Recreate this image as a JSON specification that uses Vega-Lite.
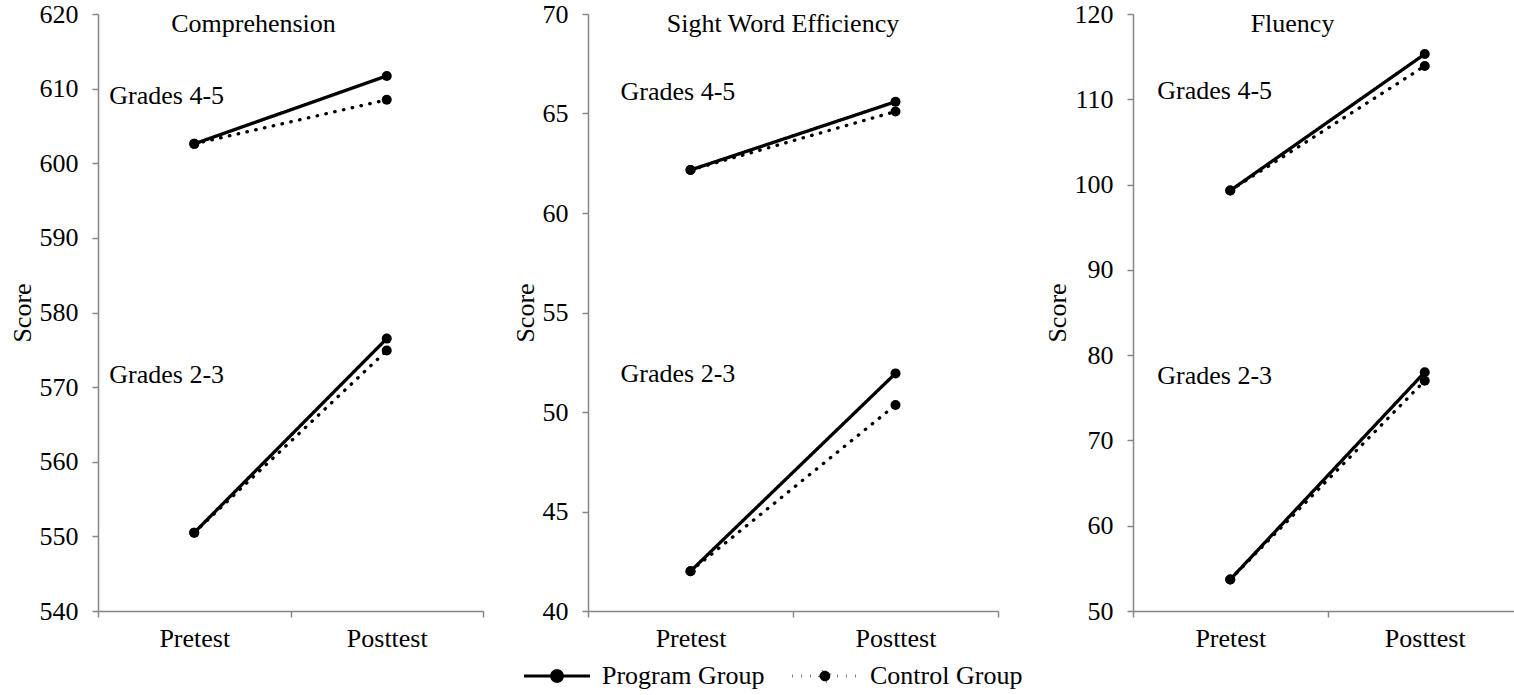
{
  "$schema": "https://vega.github.io/schema/vega-lite/v6.json",
  "padding": {"left": 9, "top": 1, "right": 0, "bottom": 0},
  "background": "white",
  "datasets": {
    "scores": [
      {"measure": "Comprehension", "grade": "Grades 4-5", "group": "Control Group", "test": "Pretest", "score": 602.6},
      {"measure": "Comprehension", "grade": "Grades 4-5", "group": "Control Group", "test": "Posttest", "score": 608.5},
      {"measure": "Comprehension", "grade": "Grades 2-3", "group": "Control Group", "test": "Pretest", "score": 550.5},
      {"measure": "Comprehension", "grade": "Grades 2-3", "group": "Control Group", "test": "Posttest", "score": 574.9},
      {"measure": "Comprehension", "grade": "Grades 4-5", "group": "Program Group", "test": "Pretest", "score": 602.6},
      {"measure": "Comprehension", "grade": "Grades 4-5", "group": "Program Group", "test": "Posttest", "score": 611.7},
      {"measure": "Comprehension", "grade": "Grades 2-3", "group": "Program Group", "test": "Pretest", "score": 550.5},
      {"measure": "Comprehension", "grade": "Grades 2-3", "group": "Program Group", "test": "Posttest", "score": 576.5},
      {"measure": "Sight Word Efficiency", "grade": "Grades 4-5", "group": "Control Group", "test": "Pretest", "score": 62.16},
      {"measure": "Sight Word Efficiency", "grade": "Grades 4-5", "group": "Control Group", "test": "Posttest", "score": 65.1},
      {"measure": "Sight Word Efficiency", "grade": "Grades 2-3", "group": "Control Group", "test": "Pretest", "score": 42.0},
      {"measure": "Sight Word Efficiency", "grade": "Grades 2-3", "group": "Control Group", "test": "Posttest", "score": 50.35},
      {"measure": "Sight Word Efficiency", "grade": "Grades 4-5", "group": "Program Group", "test": "Pretest", "score": 62.16},
      {"measure": "Sight Word Efficiency", "grade": "Grades 4-5", "group": "Program Group", "test": "Posttest", "score": 65.59},
      {"measure": "Sight Word Efficiency", "grade": "Grades 2-3", "group": "Program Group", "test": "Pretest", "score": 42.0},
      {"measure": "Sight Word Efficiency", "grade": "Grades 2-3", "group": "Program Group", "test": "Posttest", "score": 51.94},
      {"measure": "Fluency", "grade": "Grades 4-5", "group": "Control Group", "test": "Pretest", "score": 99.3},
      {"measure": "Fluency", "grade": "Grades 4-5", "group": "Control Group", "test": "Posttest", "score": 113.9},
      {"measure": "Fluency", "grade": "Grades 2-3", "group": "Control Group", "test": "Pretest", "score": 53.7},
      {"measure": "Fluency", "grade": "Grades 2-3", "group": "Control Group", "test": "Posttest", "score": 77.0},
      {"measure": "Fluency", "grade": "Grades 4-5", "group": "Program Group", "test": "Pretest", "score": 99.3},
      {"measure": "Fluency", "grade": "Grades 4-5", "group": "Program Group", "test": "Posttest", "score": 115.3},
      {"measure": "Fluency", "grade": "Grades 2-3", "group": "Program Group", "test": "Pretest", "score": 53.7},
      {"measure": "Fluency", "grade": "Grades 2-3", "group": "Program Group", "test": "Posttest", "score": 78.0}
    ],
    "labels": [
      {"measure": "Comprehension", "label": "Grades 4-5", "score": 609.0},
      {"measure": "Comprehension", "label": "Grades 2-3", "score": 571.6},
      {"measure": "Sight Word Efficiency", "label": "Grades 4-5", "score": 66.1},
      {"measure": "Sight Word Efficiency", "label": "Grades 2-3", "score": 51.9},
      {"measure": "Fluency", "label": "Grades 4-5", "score": 111.0},
      {"measure": "Fluency", "label": "Grades 2-3", "score": 77.6}
    ]
  },
  "hconcat": [
    {
      "spacing": 28,
      "hconcat": [
        {
          "width": 385,
          "height": 597,
          "title": {"text": "Comprehension", "dx": -37, "offset": -36},
          "layer": [
            {
              "data": {"name": "scores"},
              "transform": [{"filter": "datum.measure === 'Comprehension'"}],
              "mark": {"type": "line", "strokeWidth": 3.3, "strokeCap": "round", "color": "black"},
              "encoding": {
                "x": {"field": "test", "type": "nominal", "scale": {"domain": ["Pretest", "Posttest"], "paddingInner": 0, "paddingOuter": 0}, "axis": {"tickBand": "extent", "title": null, "labelAngle": 0}},
                "y": {"field": "score", "type": "quantitative", "scale": {"domain": [540, 620], "zero": false, "nice": false}, "axis": {"values": [540, 550, 560, 570, 580, 590, 600, 610, 620], "title": "Score"}},
                "strokeDash": {"field": "group", "type": "nominal", "scale": {"domain": ["Program Group", "Control Group"], "range": [[1, 0], [0.5, 8.5]]}, "title": null},
                "detail": {"field": "grade"}
              }
            },
            {
              "data": {"name": "scores"},
              "transform": [{"filter": "datum.measure === 'Comprehension'"}],
              "mark": {"type": "point", "filled": true, "size": 100, "color": "black", "opacity": 1},
              "encoding": {
                "x": {"field": "test", "type": "nominal"},
                "y": {"field": "score", "type": "quantitative"}
              }
            },
            {
              "data": {"name": "labels"},
              "transform": [{"filter": "datum.measure === 'Comprehension'"}],
              "mark": {"type": "text", "align": "left", "baseline": "middle", "dx": -85, "color": "black"},
              "encoding": {
                "x": {"datum": "Pretest"},
                "y": {"field": "score", "type": "quantitative"},
                "text": {"field": "label"}
              }
            }
          ]
        },
        {
          "width": 410,
          "height": 597,
          "title": {"text": "Sight Word Efficiency", "dx": -10, "offset": -36},
          "layer": [
            {
              "data": {"name": "scores"},
              "transform": [{"filter": "datum.measure === 'Sight Word Efficiency'"}],
              "mark": {"type": "line", "strokeWidth": 3.3, "strokeCap": "round", "color": "black"},
              "encoding": {
                "x": {"field": "test", "type": "nominal", "scale": {"domain": ["Pretest", "Posttest"], "paddingInner": 0, "paddingOuter": 0}, "axis": {"tickBand": "extent", "title": null, "labelAngle": 0}},
                "y": {"field": "score", "type": "quantitative", "scale": {"domain": [40, 70], "zero": false, "nice": false}, "axis": {"values": [40, 45, 50, 55, 60, 65, 70], "title": "Score"}},
                "strokeDash": {"field": "group", "type": "nominal", "scale": {"domain": ["Program Group", "Control Group"], "range": [[1, 0], [0.5, 8.5]]}, "title": null},
                "detail": {"field": "grade"}
              }
            },
            {
              "data": {"name": "scores"},
              "transform": [{"filter": "datum.measure === 'Sight Word Efficiency'"}],
              "mark": {"type": "point", "filled": true, "size": 100, "color": "black", "opacity": 1},
              "encoding": {
                "x": {"field": "test", "type": "nominal"},
                "y": {"field": "score", "type": "quantitative"}
              }
            },
            {
              "data": {"name": "labels"},
              "transform": [{"filter": "datum.measure === 'Sight Word Efficiency'"}],
              "mark": {"type": "text", "align": "left", "baseline": "middle", "dx": -70, "color": "black"},
              "encoding": {
                "x": {"datum": "Pretest"},
                "y": {"field": "score", "type": "quantitative"},
                "text": {"field": "label"}
              }
            }
          ]
        }
      ]
    },
    {
      "width": 389,
      "height": 597,
      "title": {"text": "Fluency", "dx": -35, "offset": -36},
      "layer": [
        {
          "data": {"name": "scores"},
          "transform": [{"filter": "datum.measure === 'Fluency'"}],
          "mark": {"type": "line", "strokeWidth": 3.3, "strokeCap": "round", "color": "black"},
          "encoding": {
            "x": {"field": "test", "type": "nominal", "scale": {"domain": ["Pretest", "Posttest"], "paddingInner": 0, "paddingOuter": 0}, "axis": {"tickBand": "extent", "title": null, "labelAngle": 0}},
            "y": {"field": "score", "type": "quantitative", "scale": {"domain": [50, 120], "zero": false, "nice": false}, "axis": {"values": [50, 60, 70, 80, 90, 100, 110, 120], "title": "Score"}},
            "strokeDash": {"field": "group", "type": "nominal", "scale": {"domain": ["Program Group", "Control Group"], "range": [[1, 0], [0.5, 8.5]]}, "title": null},
            "detail": {"field": "grade"}
          }
        },
        {
          "data": {"name": "scores"},
          "transform": [{"filter": "datum.measure === 'Fluency'"}],
          "mark": {"type": "point", "filled": true, "size": 100, "color": "black", "opacity": 1},
          "encoding": {
            "x": {"field": "test", "type": "nominal"},
            "y": {"field": "score", "type": "quantitative"}
          }
        },
        {
          "data": {"name": "labels"},
          "transform": [{"filter": "datum.measure === 'Fluency'"}],
          "mark": {"type": "text", "align": "left", "baseline": "middle", "dx": -73, "color": "black"},
          "encoding": {
            "x": {"datum": "Pretest"},
            "y": {"field": "score", "type": "quantitative"},
            "text": {"field": "label"}
          }
        }
      ]
    }
  ],
  "spacing": 45,
  "config": {
    "font": "Liberation Serif",
    "view": {"stroke": null},
    "axis": {
      "domainColor": "#868686",
      "tickColor": "#868686",
      "domainWidth": 1.5,
      "tickWidth": 1.5,
      "tickSize": 6,
      "grid": false,
      "labelFont": "Liberation Serif",
      "labelFontSize": 26,
      "labelColor": "black",
      "titleFont": "Liberation Serif",
      "titleFontSize": 26,
      "titleFontWeight": "normal",
      "titleColor": "black"
    },
    "axisX": {"labelPadding": 8},
    "axisY": {"labelPadding": 14, "titlePadding": 4},
    "text": {"font": "Liberation Serif", "fontSize": 26},
    "title": {"font": "Liberation Serif", "fontSize": 26, "fontWeight": "normal", "color": "black", "anchor": "middle", "frame": "group", "baseline": "alphabetic"},
    "legend": {
      "orient": "none",
      "legendX": 424,
      "legendY": 627,
      "direction": "horizontal",
      "symbolType": "M-1,0L1,0M-0.16,0a0.16,0.16 0 1,0 0.32,0a0.16,0.16 0 1,0 -0.32,0",
      "symbolSize": 4356,
      "symbolStrokeWidth": 3.2,
      "symbolStrokeColor": "black",
      "symbolFillColor": "black",
      "labelFont": "Liberation Serif",
      "labelFontSize": 26,
      "labelColor": "black",
      "labelLimit": 400,
      "labelOffset": 10,
      "columnPadding": 20
    }
  }
}
